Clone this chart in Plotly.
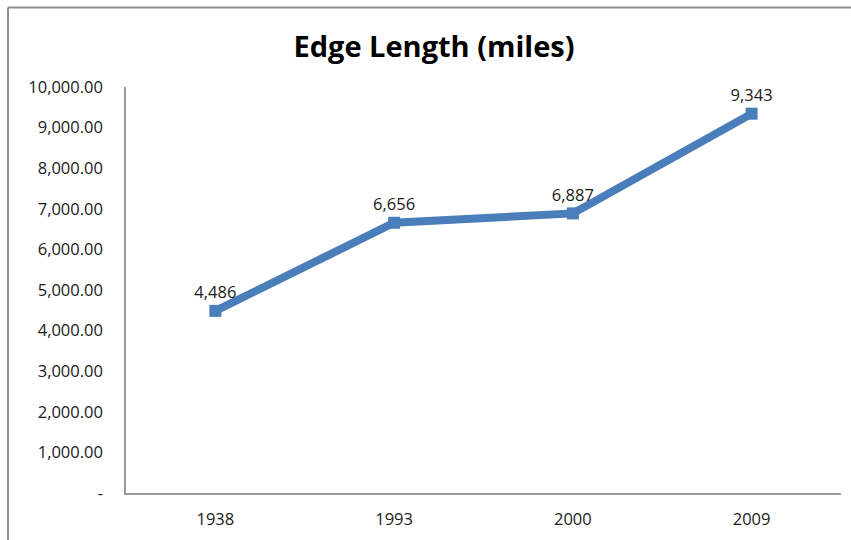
import plotly.graph_objects as go

years = ["1938", "1993", "2000", "2009"]
edge_length = [4486, 6656, 6887, 9343]
y_ticks = [0, 1000, 2000, 3000, 4000, 5000, 6000, 7000, 8000, 9000, 10000]
y_tick_text = ["-"] + [f"{v:,.2f}" for v in y_ticks[1:]]

W, H = 851, 540
ML, MR, MT, MB = 126, 10, 87, 47
pw, ph = W - ML - MR, H - MT - MB

fig = go.Figure()
fig.add_trace(go.Scatter(
    x=years, y=edge_length,
    mode="lines+markers+text",
    line=dict(color="#4A7EBB", width=8),
    marker=dict(symbol="square", size=12, color="#4A7EBB"),
    text=[f"{v:,}" for v in edge_length],
    textposition="top center",
    textfont=dict(family="Open Sans", size=16.5, color="#1a1a1a"),
    cliponaxis=False,
    showlegend=False,
))

# outer chart frame: left and top edges only
fx0 = (8 - ML) / pw
fy1 = (H - 7.5 - MB) / ph
fig.add_shape(type="line", xref="paper", yref="paper",
              x0=fx0, x1=fx0, y0=-MB / ph, y1=fy1,
              line=dict(color="#8C8C8C", width=2))
fig.add_shape(type="line", xref="paper", yref="paper",
              x0=fx0, x1=(W - ML) / pw, y0=fy1, y1=fy1,
              line=dict(color="#8C8C8C", width=2))

fig.update_layout(
    width=W, height=H,
    margin=dict(l=ML, r=MR, t=MT, b=MB),
    paper_bgcolor="white", plot_bgcolor="white",
    title=dict(text="<b>Edge Length (miles)</b>", x=434 / W, xanchor="center",
               y=1 - 47 / H, yanchor="middle",
               font=dict(family="Open Sans", size=29, color="#000000")),
    font=dict(family="Open Sans", size=16, color="#1a1a1a"),
    xaxis=dict(type="category", range=[-0.5, 3.5], showgrid=False,
               showline=True, mirror=False, linecolor="#9A9A9A", linewidth=1.5,
               ticks="", tickfont=dict(size=16.5), ticklabelstandoff=10),
    yaxis=dict(range=[0, 10000], tickvals=y_ticks, ticktext=y_tick_text,
               showgrid=False, zeroline=False, showline=True, mirror=False,
               linecolor="#9A9A9A", linewidth=1.5, ticks="",
               tickfont=dict(size=16.5), ticklabelstandoff=18),
)

fig.write_html("out.html", config={"displayModeBar": False})
